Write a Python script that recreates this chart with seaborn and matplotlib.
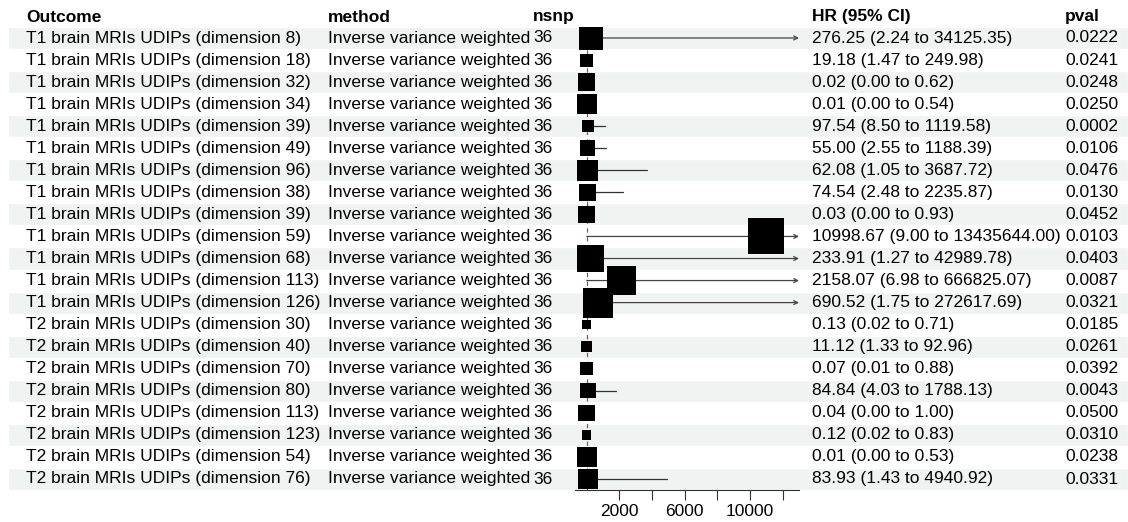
import numpy as np
import pandas as pd
import matplotlib
matplotlib.use("Agg")
import matplotlib.pyplot as plt
import seaborn as sns

sns.set_style("white")
plt.rcParams["font.family"] = ["Liberation Sans", "DejaVu Sans"]
plt.rcParams["text.color"] = "black"
plt.rcParams["xtick.color"] = "black"

# data
outcome = [
    "T1 brain MRIs UDIPs (dimension 8)",
    "T1 brain MRIs UDIPs (dimension 18)",
    "T1 brain MRIs UDIPs (dimension 32)",
    "T1 brain MRIs UDIPs (dimension 34)",
    "T1 brain MRIs UDIPs (dimension 39)",
    "T1 brain MRIs UDIPs (dimension 49)",
    "T1 brain MRIs UDIPs (dimension 96)",
    "T1 brain MRIs UDIPs (dimension 38)",
    "T1 brain MRIs UDIPs (dimension 39)",
    "T1 brain MRIs UDIPs (dimension 59)",
    "T1 brain MRIs UDIPs (dimension 68)",
    "T1 brain MRIs UDIPs (dimension 113)",
    "T1 brain MRIs UDIPs (dimension 126)",
    "T2 brain MRIs UDIPs (dimension 30)",
    "T2 brain MRIs UDIPs (dimension 40)",
    "T2 brain MRIs UDIPs (dimension 70)",
    "T2 brain MRIs UDIPs (dimension 80)",
    "T2 brain MRIs UDIPs (dimension 113)",
    "T2 brain MRIs UDIPs (dimension 123)",
    "T2 brain MRIs UDIPs (dimension 54)",
    "T2 brain MRIs UDIPs (dimension 76)",
]
method = ["Inverse variance weighted"] * 21
nsnp = [36] * 21
hr = [276.25, 19.18, 0.02, 0.01, 97.54, 55.00, 62.08, 74.54, 0.03, 10998.67,
      233.91, 2158.07, 690.52, 0.13, 11.12, 0.07, 84.84, 0.04, 0.12, 0.01, 83.93]
lower = [2.24, 1.47, 0.00, 0.00, 8.50, 2.55, 1.05, 2.48, 0.00, 9.00,
         1.27, 6.98, 1.75, 0.02, 1.33, 0.01, 4.03, 0.00, 0.02, 0.00, 1.43]
upper = [34125.35, 249.98, 0.62, 0.54, 1119.58, 1188.39, 3687.72, 2235.87, 0.93,
         13435644.00, 42989.78, 666825.07, 272617.69, 0.71, 92.96, 0.88,
         1788.13, 1.00, 0.83, 0.53, 4940.92]
pval = [0.0222, 0.0241, 0.0248, 0.0250, 0.0002, 0.0106, 0.0476, 0.0130, 0.0452,
        0.0103, 0.0403, 0.0087, 0.0321, 0.0185, 0.0261, 0.0392, 0.0043, 0.0500,
        0.0310, 0.0238, 0.0331]
tick_at = [2000, 4000, 6000, 8000, 10000, 12000]
tick_lab = ["2000", "", "6000", "", "10000", ""]

df = pd.DataFrame({"outcome": outcome, "method": method, "nsnp": nsnp,
                   "hr": hr, "lower": lower, "upper": upper, "pval": pval})
df["row"] = np.arange(len(df))
df["se"] = np.log(df["upper"] / df["hr"]) / 1.96
# box side ~9.9 px per se unit, converted to points^2
df["area"] = (df["se"] * 9.9 * 72 / 100) ** 2

W, H = 1128, 522
fig = plt.figure(figsize=(W / 100, H / 100), dpi=100)

# table layer in pixel coords
bg = fig.add_axes([0, 0, 1, 1])
bg.set_xlim(0, W)
bg.set_ylim(H, 0)
bg.axis("off")

y0, pitch = 38, 22.05
ys = y0 + pitch * df["row"].values
fs = 12.5
even = df["row"] % 2 == 0
bg.barh(ys[even], width=W - 8, left=8, height=pitch, color="#eff3f2", zorder=0)

cols = {"Outcome": 26, "method": 328, "nsnp": 533, "HR (95% CI)": 812, "pval": 1065}
for name, x in cols.items():
    bg.text(x, 17, name, fontsize=fs, fontweight="bold", va="center", ha="left")

for i, r in df.iterrows():
    y = ys[i]
    bg.text(cols["Outcome"], y, r["outcome"], fontsize=fs, va="center")
    bg.text(cols["method"], y, r["method"], fontsize=fs, va="center")
    bg.text(cols["nsnp"], y, str(r["nsnp"]), fontsize=fs, va="center")
    bg.text(cols["HR (95% CI)"], y,
            f"{r['hr']:.2f} ({r['lower']:.2f} to {r['upper']:.2f})",
            fontsize=fs, va="center")
    bg.text(cols["pval"], y, f"{r['pval']:.4f}", fontsize=fs, va="center")

# forest panel
top = y0 - pitch / 2
bot = y0 + pitch * 20.5
xl, xr = 575, 799
ax = fig.add_axes([xl / W, (H - bot) / H, (xr - xl) / W, (bot - top) / H])
ax.patch.set_alpha(0)
xmin, xmax = -710, 12990
ax.set_xlim(xmin, xmax)
ax.set_ylim(20.5, -0.5)

ax.axvline(1, color="#e8231f", ls=(0, (4, 4)), lw=0.8, zorder=1)

for i, r in df.iterrows():
    if r["upper"] > xmax:
        ax.annotate("", xy=(xmax, r["row"]), xytext=(r["lower"], r["row"]),
                    arrowprops=dict(arrowstyle="->", color="#444444", lw=0.9,
                                    shrinkA=0, shrinkB=0, mutation_scale=7),
                    zorder=2)
    else:
        ax.plot([r["lower"], r["upper"]], [r["row"], r["row"]],
                color="#333333", lw=0.9, zorder=2)

amin, amax = df["area"].min(), df["area"].max()
sns.scatterplot(data=df, x="hr", y="row", size="area", sizes=(amin, amax),
                size_norm=(amin, amax), marker="s", color="black",
                edgecolor="black", linewidth=0, legend=False, ax=ax, zorder=3)

sns.despine(ax=ax, left=True, top=True, right=True)
ax.spines["bottom"].set_color("#333333")
ax.spines["bottom"].set_linewidth(0.8)
ax.set_yticks([])
ax.set_xticks(tick_at)
ax.set_xticklabels(tick_lab)
ax.tick_params(axis="x", direction="out", length=7, width=0.8, color="#333333",
               labelsize=fs, pad=3, bottom=True)
ax.set_xlabel("")
ax.set_ylabel("")

fig.savefig("out.png", dpi=100)
